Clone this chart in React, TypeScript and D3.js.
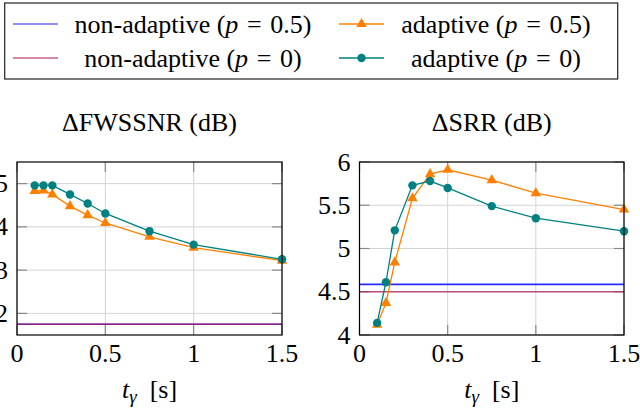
import React from 'react';
import * as d3 from 'd3';

// x positions of the adaptive runs (t_gamma in seconds)
const tGamma = [0.1, 0.15, 0.2, 0.3, 0.4, 0.5, 0.75, 1, 1.5];

// ΔFWSSNR (dB)
const fwAdaptiveP05 = [4.83, 4.84, 4.75, 4.48, 4.27, 4.09, 3.77, 3.52, 3.22];
const fwAdaptiveP0 = [4.96, 4.96, 4.96, 4.75, 4.54, 4.31, 3.90, 3.59, 3.25];
const fwNonAdaptiveP05 = 1.75;
const fwNonAdaptiveP0 = 1.75;

// ΔSRR (dB)
const srrAdaptiveP05 = [4.12, 4.37, 4.84, 5.58, 5.86, 5.91, 5.79, 5.64, 5.45];
const srrAdaptiveP0 = [4.14, 4.61, 5.21, 5.73, 5.78, 5.70, 5.49, 5.35, 5.20];
const srrNonAdaptiveP05 = 4.585;
const srrNonAdaptiveP0 = 4.5;

const xTicks = [0, 0.5, 1, 1.5];
const fwTicks = [2, 3, 4, 5];
const srrTicks = [4, 4.5, 5, 5.5, 6];

const BLUE = '#2a2aff';
const RED = '#b01e55';
const ORANGE = '#ff8000';
const TEAL = '#008080';
const FONT = 'Liberation Serif, Tinos, Times New Roman, serif';

type Panel = {
  title: string,
  left: number,
  right: number,
  yDomain: [number, number],
  yTicks: number[],
  adaptiveP05: number[],
  adaptiveP0: number[],
  nonAdaptiveP05: number,
  nonAdaptiveP0: number,
};

const panels: Panel[] = [
  {title: 'FWSSNR (dB)', left: 17, right: 282, yDomain: [1.5, 5.5], yTicks: fwTicks,
    adaptiveP05: fwAdaptiveP05, adaptiveP0: fwAdaptiveP0,
    nonAdaptiveP05: fwNonAdaptiveP05, nonAdaptiveP0: fwNonAdaptiveP0},
  {title: 'SRR (dB)', left: 359.5, right: 624, yDomain: [4, 6], yTicks: srrTicks,
    adaptiveP05: srrAdaptiveP05, adaptiveP0: srrAdaptiveP0,
    nonAdaptiveP05: srrNonAdaptiveP05, nonAdaptiveP0: srrNonAdaptiveP0},
];

const top = 162, bottom = 335;
const tri = d3.symbol().type(d3.symbolTriangle).size(48)()!;
const GRID = '#d4d4d4';
const TICK = '#8a8a8a';
const tl = 10;

const T: React.FC<React.SVGProps<SVGTextElement> & {size?: number}> = ({size = 26, children, ...rest}) => (
  <text fontFamily={FONT} fontSize={size} style={{fontFamily: FONT, fontSize: size + 'px'}} {...rest}>
    {children}
  </text>
);

const PanelView: React.FC<{p: Panel}> = ({p}) => {
  const x = d3.scaleLinear().domain([0, 1.5]).range([p.left, p.right]);
  const y = d3.scaleLinear().domain(p.yDomain).range([bottom, top]);
  const line = d3.line<number>().x((_, i) => x(tGamma[i])).y(d => y(d));
  const cx = (p.left + p.right) / 2;

  return (
    <g>
      {xTicks.map(t => (
        <g key={'x' + t}>
          <line x1={x(t)} x2={x(t)} y1={top} y2={bottom} stroke={GRID}/>
          <line x1={x(t)} x2={x(t)} y1={top} y2={top + tl} stroke={TICK} strokeWidth={1.2}/>
          <line x1={x(t)} x2={x(t)} y1={bottom} y2={bottom - tl} stroke={TICK} strokeWidth={1.2}/>
          <T x={x(t)} y={362} textAnchor="middle">{String(t)}</T>
        </g>
      ))}
      {p.yTicks.map(t => (
        <g key={'y' + t}>
          <line x1={p.left} x2={p.right} y1={y(t)} y2={y(t)} stroke={GRID}/>
          <line x1={p.left} x2={p.left + tl} y1={y(t)} y2={y(t)} stroke={TICK} strokeWidth={1.2}/>
          <line x1={p.right} x2={p.right - tl} y1={y(t)} y2={y(t)} stroke={TICK} strokeWidth={1.2}/>
          <T x={p.left - 9} y={y(t) + 8.5} textAnchor="end">{String(t)}</T>
        </g>
      ))}

      <line x1={p.left} x2={p.right} y1={y(p.nonAdaptiveP05)} y2={y(p.nonAdaptiveP05)}
            stroke={BLUE} strokeWidth={1.6}/>
      <line x1={p.left} x2={p.right} y1={y(p.nonAdaptiveP0)} y2={y(p.nonAdaptiveP0)}
            stroke={RED} strokeOpacity={0.75} strokeWidth={1.6}/>

      <path d={line(p.adaptiveP05)!} fill="none" stroke={ORANGE} strokeWidth={1.3}/>
      {p.adaptiveP05.map((d, i) => (
        <path key={'t' + i} d={tri} transform={`translate(${x(tGamma[i])},${y(d)})`} fill={ORANGE}/>
      ))}

      <path d={line(p.adaptiveP0)!} fill="none" stroke={TEAL} strokeWidth={1.3}/>
      {p.adaptiveP0.map((d, i) => (
        <circle key={'c' + i} cx={x(tGamma[i])} cy={y(d)} r={4.2} fill={TEAL}/>
      ))}

      <rect x={p.left} y={top} width={p.right - p.left} height={bottom - top}
            fill="none" stroke="#000" strokeWidth={1.2}/>

      <T x={cx} y={131} textAnchor="middle">{'Δ' + p.title}</T>
      <T x={cx} y={398} textAnchor="middle">
        <tspan fontStyle="italic">t</tspan>
        <tspan fontStyle="italic" fontSize={19} dy={5}>γ</tspan>
        <tspan dy={-5}>{'\u2002[s]'}</tspan>
      </T>
    </g>
  );
};

const legendEntries = [
  {label: 'non-adaptive', p: '0.5', color: BLUE, mark: 'none', lx: 13, tx: 193, row: 0},
  {label: 'non-adaptive', p: '0', color: RED, mark: 'none', lx: 13, tx: 193, row: 1},
  {label: 'adaptive', p: '0.5', color: ORANGE, mark: 'tri', lx: 339, tx: 496, row: 0},
  {label: 'adaptive', p: '0', color: TEAL, mark: 'dot', lx: 339, tx: 496, row: 1},
];

const Legend: React.FC = () => (
  <g>
    <rect x={4.7} y={3} width={613} height={76} fill="#fff" stroke="#222" strokeWidth={1.2}/>
    {legendEntries.map(e => {
      const cy = 24 + e.row * 34;
      return (
        <g key={e.label + e.p}>
          <line x1={e.lx} x2={e.lx + 45} y1={cy} y2={cy} stroke={e.color} strokeWidth={1.3}
                strokeOpacity={e.mark === 'none' ? 0.7 : 1}/>
          {e.mark === 'tri' && <path d={tri} transform={`translate(${e.lx + 22.5},${cy})`} fill={e.color}/>}
          {e.mark === 'dot' && <circle cx={e.lx + 22.5} cy={cy} r={4.2} fill={e.color}/>}
          <T x={e.tx} y={cy + 8.5} textAnchor="middle">
            <tspan>{e.label + ' ('}</tspan>
            <tspan fontStyle="italic">p</tspan>
            <tspan>{'\u2004=\u2004' + e.p + ')'}</tspan>
          </T>
        </g>
      );
    })}
  </g>
);

const App: React.FC = () => (
  <svg width={640} height={411} fontFamily={FONT}
       style={{position: 'absolute', left: 0, top: 0, background: '#fff', fontFamily: FONT}}>
    <Legend/>
    {panels.map(p => <PanelView key={p.title} p={p}/>)}
  </svg>
);

export default App;
